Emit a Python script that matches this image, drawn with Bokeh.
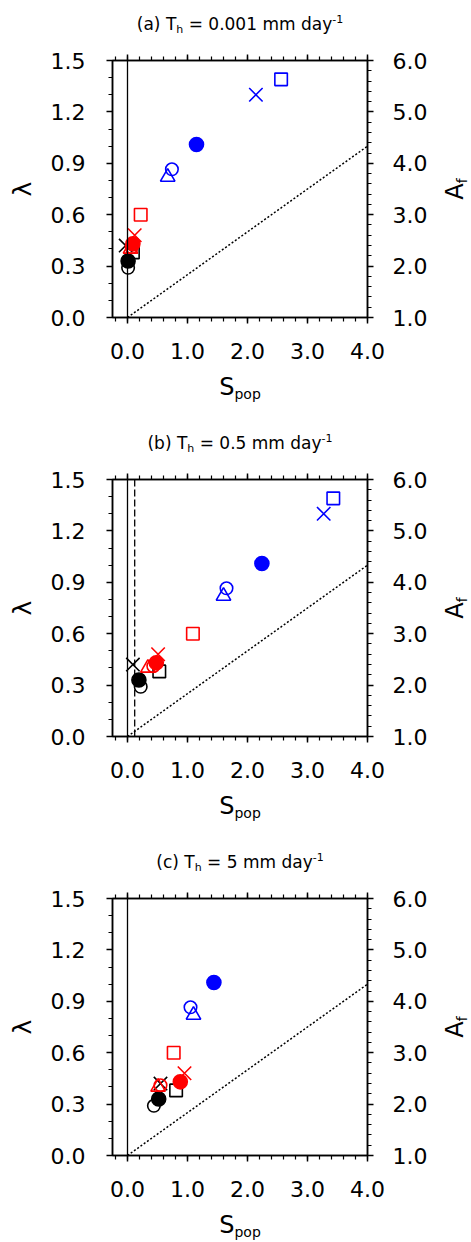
from bokeh.plotting import figure
from bokeh.models import (Range1d, LinearAxis, FixedTicker, PrintfTickFormatter,
                          Span, ColumnDataSource, Div)
from bokeh.layouts import column, row
from bokeh.embed import file_html
from bokeh.resources import INLINE

# ---------------- data ----------------
panel_letters = ["(a)", "(b)", "(c)"]
thresholds = ["0.001", "0.5", "5"]

# lambda of each model/marker (same in every panel)
lam = [0.29, 0.33, 0.38, 0.42,             # black: open circle, filled circle, square, x
       0.40, 0.41, 0.43, 0.48, 0.60,       # red: triangle, open circle, filled circle, x, square
       0.82, 0.865, 1.01, 1.30, 1.39]      # blue: triangle, open circle, filled circle, x, square

nan = float("nan")
s_pop_a = [0.01, 0.01, 0.09, -0.03,
           0.05, 0.07, 0.09, 0.12, 0.22,
           0.67, 0.74, 1.15, 2.14, 2.56]
s_pop_b = [0.22, 0.19, 0.53, 0.09,
           0.34, 0.43, 0.48, 0.51, 1.09,
           1.60, 1.65, 2.24, 3.27, 3.43]
s_pop_c = [0.44, 0.52, 0.81, 0.55,
           0.51, 0.55, 0.88, 0.95, 0.77,
           1.10, 1.05, 1.44, nan, nan]
s_pop_panels = [s_pop_a, s_pop_b, s_pop_c]

dashed_x = [None, 0.12, None]
diag_x = [0.0, 4.0]
diag_y = [0.0, 1.0]

x_ticks = [0.0, 1.0, 2.0, 3.0, 4.0]
y_ticks = [0.0, 0.3, 0.6, 0.9, 1.2, 1.5]
af_ticks = [1.0, 2.0, 3.0, 4.0, 5.0, 6.0]

# ---------------- styles ----------------
marker_kind = ["circle", "circle", "square", "x",
               "triangle", "circle", "circle", "x", "square",
               "triangle", "circle", "circle", "x", "square"]
marker_filled = [False, True, False, False,
                 False, False, True, False, False,
                 False, False, True, False, False]
marker_color = ["black"] * 4 + ["#ff0000"] * 5 + ["#0000ff"] * 5
size_of = {"circle": 12.5, "square": 12.5, "x": 19, "triangle": 14.5}

XMIN, XMAX, YMIN, YMAX = -0.25, 4.0, 0.0, 1.5
AFMIN, AFMAX = 1.0, 6.0
W = 471
LEFT_W, RIGHT_W = 40, 41
FIG_W = W - LEFT_W - RIGHT_W          # 390
TITLE_H = 50
FRAME_W, FRAME_H = 256, 257
BORDER_L = 112 - LEFT_W               # frame left at x = 112 on the page
BORDER_T, BORDER_B = 10, 54
MID_H = BORDER_T + FRAME_H + BORDER_B
panel_heights = [419, 419, 404]
FONT = "'DejaVu Sans'"


def style_axis(ax, standoff):
    ax.axis_line_width = 1.5
    ax.axis_line_color = "black"
    ax.major_tick_line_width = 1.5
    ax.minor_tick_line_width = 1.2
    ax.major_tick_line_color = "black"
    ax.minor_tick_line_color = "black"
    ax.major_tick_out = 6
    ax.major_tick_in = 0
    ax.minor_tick_out = 4
    ax.minor_tick_in = 0
    ax.major_label_text_font = "DejaVu Sans"
    ax.major_label_text_font_size = "22px"
    ax.major_label_text_color = "black"
    ax.major_label_standoff = standoff
    ax.axis_label = None


def minor(lo, hi, step):
    n = int(round((hi - lo) / step))
    return [round(lo + i * step, 6) for i in range(n + 1)]


def title_div(letter, thr):
    html = (f'<div style="position:relative;width:{W}px;height:{TITLE_H}px;">'
            f'<div style="position:absolute;left:0;top:14px;width:480px;text-align:center;'
            f'font-family:{FONT};font-size:17px;line-height:20px;white-space:nowrap;color:black;">'
            f'{letter} T<sub style="font-size:11px;line-height:0;vertical-align:-3px;">h</sub>'
            f' = {thr} mm day'
            f'<sup style="font-size:11px;line-height:0;vertical-align:7px;">-1</sup></div></div>')
    return Div(text=html, width=W, height=TITLE_H, margin=0)


def side_div(width, cx, inner, size):
    cy = BORDER_T + FRAME_H / 2
    html = (f'<div style="position:relative;width:{width}px;height:{MID_H}px;">'
            f'<span style="position:absolute;left:{cx}px;top:{cy}px;'
            f'transform:translate(-50%,-50%) rotate(-90deg);font-family:{FONT};'
            f'font-size:{size}px;line-height:1;white-space:nowrap;color:black;">{inner}</span></div>')
    return Div(text=html, width=width, height=MID_H, margin=0)


def bottom_div(h):
    html = (f'<div style="position:relative;width:{W}px;height:{h}px;">'
            f'<div style="position:absolute;left:0;top:2px;width:480px;text-align:center;'
            f'font-family:{FONT};font-size:24px;line-height:28px;white-space:nowrap;color:black;">'
            f'S<sub style="font-size:14px;line-height:0;vertical-align:-4px;">pop</sub></div></div>')
    return Div(text=html, width=W, height=h, margin=0)


blocks = []
for k in range(3):
    p = figure(width=FIG_W, height=MID_H, x_range=Range1d(XMIN, XMAX),
               y_range=Range1d(YMIN, YMAX), title=None,
               output_backend="svg", toolbar_location=None,
               min_border_left=BORDER_L, min_border_right=FIG_W - BORDER_L - FRAME_W,
               min_border_top=BORDER_T, min_border_bottom=BORDER_B)
    p.xgrid.visible = False
    p.ygrid.visible = False
    p.outline_line_color = "black"
    p.outline_line_width = 1.5
    p.background_fill_color = "white"
    p.border_fill_color = "white"

    p.xaxis.ticker = FixedTicker(ticks=x_ticks, minor_ticks=minor(-0.2, 4.0, 0.2))
    p.xaxis.formatter = PrintfTickFormatter(format="%.1f")
    style_axis(p.xaxis[0], 19)
    p.yaxis.ticker = FixedTicker(ticks=y_ticks, minor_ticks=minor(0.0, 1.5, 0.1))
    p.yaxis.formatter = PrintfTickFormatter(format="%.1f")
    style_axis(p.yaxis[0], 21)

    p.extra_y_ranges = {"af": Range1d(AFMIN, AFMAX)}
    right = LinearAxis(y_range_name="af",
                       ticker=FixedTicker(ticks=af_ticks, minor_ticks=minor(1.0, 6.0, 0.2)),
                       formatter=PrintfTickFormatter(format="%.1f"))
    style_axis(right, 19)
    p.add_layout(right, "right")

    top = LinearAxis(ticker=FixedTicker(ticks=x_ticks, minor_ticks=minor(-0.2, 4.0, 0.2)))
    style_axis(top, 0)
    top.major_label_text_color = None
    top.major_label_text_font_size = "1px"
    p.add_layout(top, "above")

    # reference lines
    p.add_layout(Span(location=0.0, dimension="height", line_color="black", line_width=1.3))
    if dashed_x[k] is not None:
        p.add_layout(Span(location=dashed_x[k], dimension="height", line_color="black",
                          line_width=1.3, line_dash="7 3"))
    p.line(diag_x, diag_y, line_color="black", line_width=1.5, line_dash="2 2")

    src = ColumnDataSource(dict(
        x=s_pop_panels[k], y=lam, marker=marker_kind, color=marker_color,
        fill=[1.0 if f else 0.0 for f in marker_filled],
        size=[(14 if f else size_of[m]) for m, f in zip(marker_kind, marker_filled)],
    ))
    p.scatter("x", "y", source=src, marker="marker", size="size",
              line_color="color", fill_color="color", fill_alpha="fill", line_width=1.6)

    left_d = side_div(LEFT_W, 22, "λ", 25)
    right_d = side_div(RIGHT_W, 25,
                       'A<sub style="font-size:14px;line-height:0;vertical-align:-4px;">f</sub>',
                       24)
    mid = row(left_d, p, right_d, spacing=0)
    bot_h = panel_heights[k] - TITLE_H - MID_H
    blocks.append(column(title_div(panel_letters[k], thresholds[k]), mid,
                         bottom_div(bot_h), spacing=0))

layout = column(*blocks, spacing=0)
open("out.html", "w").write(file_html(layout, INLINE))
